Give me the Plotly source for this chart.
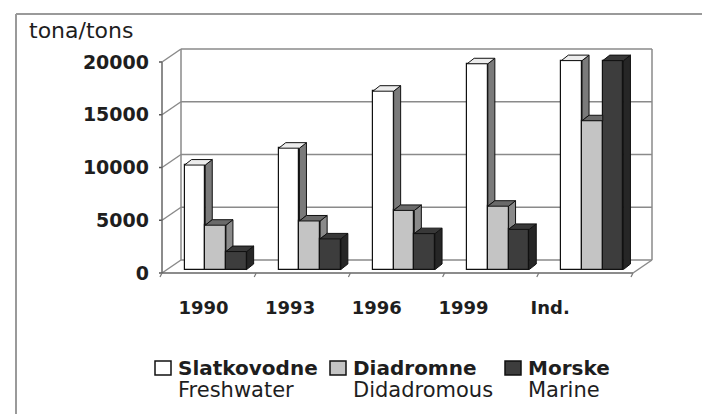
import plotly.graph_objects as go

# ---- data -------------------------------------------------------------
categories = ["1990", "1993", "1996", "1999", "Ind."]
freshwater = [9900, 11500, 16900, 19500, 19800]
diadromous = [4200, 4600, 5600, 6000, 14100]
marine = [1700, 2900, 3400, 3800, 19800]
y_ticks = [0, 5000, 10000, 15000, 20000]
y_tick_text = ["0", "5000", "10000", "15000", "20000"]
series_bold = ["Slatkovodne", "Diadromne", "Morske"]
series_sub = ["Freshwater", "Didadromous", "Marine"]
unit_label = "tona/tons"

# ---- styling ----------------------------------------------------------
W, H = 702, 414
FONT = "DejaVu Sans"
TXT = "#1e1e1e"
WALL = "#8a8a8a"
front_fill = ["#ffffff", "#c4c4c4", "#3d3d3d"]
side_fill = ["#7a7a7a", "#8a8a8a", "#262626"]
top_fill = ["#ececec", "#6a6a6a", "#383838"]

# pixel geometry of the pseudo-3D box
PX_CAT = 94.2              # pixels per category along the front floor edge
Y_PER_PX = 20000 / 211     # data units per vertical pixel
AX_LEFT, AX_BOTTOM = 162, 273  # front axis origin in page pixels
PLOT_L, PLOT_R, PLOT_T, PLOT_B = 156, 662, 44, 285


def dx(px):
    return px / PX_CAT


def dy(px):
    return px * Y_PER_PX


WALL_DX, WALL_DY = dx(19), dy(13)     # depth of floor / side wall
BAR_DX, BAR_DY = dx(6.5), dy(3.5)     # plane on which bars stand
EXT_DX, EXT_DY = dx(7), dy(5.5)       # extrusion of each bar
BW = dx(20.7)                         # bar width

n = len(categories)
series = [freshwater, diadromous, marine]

fig = go.Figure()

shapes = []


def poly(pts, fill, layer="above", color="#111", width=1):
    path = "M " + " L ".join(f"{x},{y}" for x, y in pts) + " Z"
    shapes.append(dict(type="path", path=path, xref="x", yref="y",
                       fillcolor=fill, line=dict(color=color, width=width),
                       layer=layer))


def seg(x0, y0, x1, y1, color=WALL, width=1.5, layer="below"):
    shapes.append(dict(type="line", x0=x0, y0=y0, x1=x1, y1=y1,
                       xref="x", yref="y", line=dict(color=color, width=width),
                       layer=layer))


# back wall, side wall and floor
for v in y_ticks:
    seg(WALL_DX, v + WALL_DY, n + WALL_DX, v + WALL_DY)
    seg(0, v, WALL_DX, v + WALL_DY)
    seg(-dx(3), v, 0, v, color="#555")
seg(WALL_DX, WALL_DY, WALL_DX, y_ticks[-1] + WALL_DY)
seg(n + WALL_DX, WALL_DY, n + WALL_DX, y_ticks[-1] + WALL_DY)
seg(0, 0, 0, y_ticks[-1], color="#666")
seg(0, 0, n, 0, color="#666")
seg(n, 0, n + WALL_DX, WALL_DY)
for i in range(n + 1):
    seg(i, 0, i - dx(2), -dy(4), color="#777", width=1.2)

# bar fronts
for k, vals in enumerate(series):
    xs = [i + 0.5 + BAR_DX + (k - 1) * BW for i in range(n)]
    fig.add_trace(go.Bar(
        x=xs, y=vals, base=BAR_DY, width=BW,
        marker=dict(color=front_fill[k], line=dict(color="#111", width=1.2)),
        showlegend=False, hoverinfo="skip",
    ))

# side and top faces, drawn left to right so later bars overlap earlier ones
for i in range(n):
    for k, vals in enumerate(series):
        x0 = i + 0.5 + BAR_DX + (k - 1) * BW - BW / 2
        x1 = x0 + BW
        base = BAR_DY
        top = base + vals[i]
        nxt = series[k + 1][i] + base if k + 1 < len(series) else base
        low = max(base, nxt)
        if top > low:
            poly([(x1, low), (x1, top), (x1 + EXT_DX, top + EXT_DY),
                  (x1 + EXT_DX, low + EXT_DY)], side_fill[k])
        # a taller neighbour hides the right part of this bar's top face
        right = x1 if nxt > top else x1 + EXT_DX
        poly([(x0, top), (x0 + EXT_DX, top + EXT_DY),
              (right, top + EXT_DY), (x1, top)], top_fill[k])

plot_w = PLOT_R - PLOT_L
plot_h = PLOT_B - PLOT_T


def px_paper(px, py):
    return (px - PLOT_L) / plot_w, (PLOT_B - py) / plot_h


# outer frame of the figure
fx0, fy0 = px_paper(16, 414)
fx1, fy1 = px_paper(702, 14)
shapes.append(dict(type="line", xref="paper", yref="paper",
                   x0=fx0, x1=fx0, y0=fy0, y1=fy1,
                   line=dict(color="#9a9a9a", width=2)))
shapes.append(dict(type="line", xref="paper", yref="paper",
                   x0=fx0, x1=fx1, y0=fy1, y1=fy1,
                   line=dict(color="#9a9a9a", width=2)))

annotations = []

# unit label
ux, uy = px_paper(27, 31)
annotations.append(dict(x=ux, y=uy, xref="paper", yref="paper",
                        text=unit_label, showarrow=False, xanchor="left",
                        yanchor="middle",
                        font=dict(family=FONT, size=22, color=TXT)))

# legend
for k in range(3):
    bx = 155 + 175 * k
    p0 = px_paper(bx, 375)
    p1 = px_paper(bx + 16, 361)
    shapes.append(dict(type="rect", xref="paper", yref="paper",
                       x0=p0[0], y0=p0[1], x1=p1[0], y1=p1[1],
                       fillcolor=front_fill[k], line=dict(color="#111", width=1.5)))
    tx, ty = px_paper(bx + 21, 368)
    annotations.append(dict(x=tx, y=ty, xref="paper", yref="paper",
                            text=series_bold[k], showarrow=False,
                            xanchor="left", yanchor="middle",
                            font=dict(family=FONT, size=20, color=TXT,
                                      weight="bold")))
    tx, ty = px_paper(bx + 21, 390)
    annotations.append(dict(x=tx, y=ty, xref="paper", yref="paper",
                            text=series_sub[k], showarrow=False,
                            xanchor="left", yanchor="middle",
                            font=dict(family=FONT, size=21, color=TXT)))

fig.update_layout(
    width=W, height=H,
    margin=dict(l=PLOT_L, r=W - PLOT_R, t=PLOT_T, b=H - PLOT_B, pad=0),
    paper_bgcolor="white", plot_bgcolor="white",
    barmode="overlay", bargap=0,
    shapes=shapes, annotations=annotations,
    xaxis=dict(
        range=[-dx(AX_LEFT - PLOT_L), dx(PLOT_R - AX_LEFT)],
        tickvals=[0.44 + 0.92 * i for i in range(n)], ticktext=categories,
        ticks="", showgrid=False, zeroline=False, showline=False,
        ticklabelstandoff=10,
        tickfont=dict(family=FONT, size=18, color=TXT, weight="bold"),
    ),
    yaxis=dict(
        range=[-dy(PLOT_B - AX_BOTTOM), dy(AX_BOTTOM - PLOT_T)],
        tickvals=y_ticks, ticktext=y_tick_text, ticks="", showgrid=False,
        zeroline=False, showline=False, ticklabelstandoff=6,
        tickfont=dict(family=FONT, size=19, color=TXT, weight="bold"),
    ),
)

fig.write_html("out.html")
